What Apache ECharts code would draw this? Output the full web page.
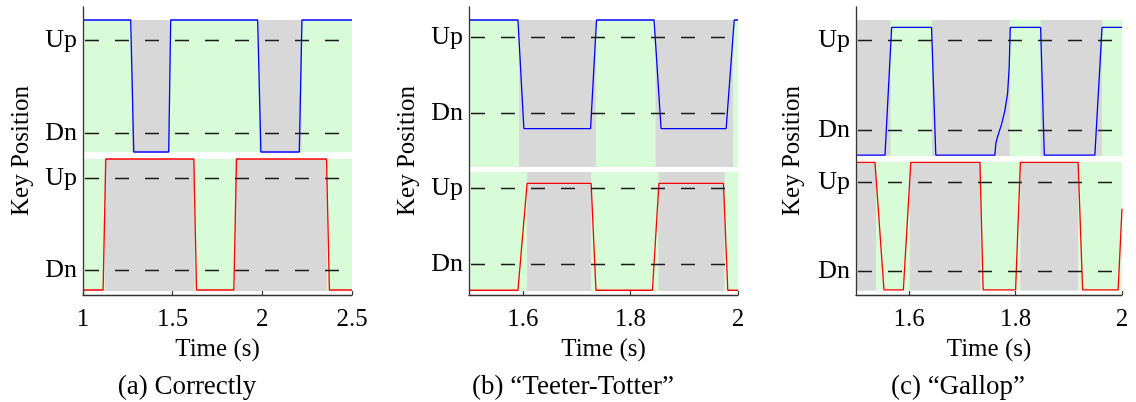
<!DOCTYPE html>
<html>
<head>
<meta charset="utf-8">
<script src="https://cdn.jsdelivr.net/npm/echarts@6/dist/echarts.min.js"></script>
<style>
  html, body { margin: 0; padding: 0; background: #fff; }
  #chart { width: 1136px; height: 402px; }
</style>
</head>
<body>
<div id="chart"></div>
<script>
// Key position traces for two keys, in units where Dn = 0 and Up = 1.
const yTickValues = [0, 1];
const yTickLabels = ['Dn', 'Up'];

const xTitle = 'Time (s)';
const yTitle = 'Key Position';
const captions = ['(a) Correctly', '(b) \u201cTeeter-Totter\u201d', '(c) \u201cGallop\u201d'];

// x ranges and tick values of each panel
const aRange = [1, 2.5];
const bRange = [1.5, 2];
const cRange = [1.5, 2];
const aTicks = [1, 1.5, 2, 2.5];
const bTicks = [1.6, 1.8, 2];
const cTicks = [1.6, 1.8, 2];

// (a) correctly: upper key (blue)
const aTopTime  = [1.0, 1.266, 1.283, 1.478, 1.489, 1.974, 1.992, 2.206, 2.221, 2.5];
const aTopValue = [1.215, 1.215, -0.204, -0.204, 1.215, 1.215, -0.204, -0.204, 1.215, 1.215];
const aTopGray  = [[1.272, 1.484], [1.981, 2.219]];
// (a) correctly: lower key (red)
const aBotTime  = [1.0, 1.112, 1.127, 1.618, 1.633, 1.841, 1.856, 2.358, 2.374, 2.5];
const aBotValue = [-0.217, -0.217, 1.207, 1.207, -0.217, -0.217, 1.207, 1.207, -0.217, -0.217];
const aBotGray  = [[1.121, 1.622], [1.849, 2.361]];

// (b) teeter-totter
const bTopTime  = [1.5, 1.591, 1.602, 1.726, 1.737, 1.844, 1.857, 1.978, 1.993, 2.0];
const bTopValue = [1.22, 1.22, -0.205, -0.205, 1.22, 1.22, -0.205, -0.205, 1.22, 1.22];
const bTopGray  = [[1.593, 1.736], [1.847, 1.991]];
const bBotTime  = [1.5, 1.591, 1.608, 1.727, 1.736, 1.841, 1.853, 1.973, 1.981, 2.0];
const bBotValue = [-0.35, -0.35, 1.07, 1.07, -0.35, -0.35, 1.07, 1.07, -0.35, -0.35];
const bBotGray  = [[1.608, 1.727], [1.852, 1.975]];

// (c) gallop
const cTopTime  = [1.5, 1.5545, 1.567, 1.642, 1.650, 1.761, 1.763, 1.766, 1.769, 1.774, 1.780, 1.785, 1.788, 1.790, 1.847, 1.854, 1.949, 1.9625, 2.0];
const cTopValue = [-0.28, -0.28, 1.14, 1.14, -0.28, -0.28, -0.145, -0.078, -0.022, 0.07, 0.22, 0.41, 0.70, 1.14, 1.14, -0.28, -0.28, 1.14, 1.14];
const cTopGray  = [[1.5, 1.565], [1.643, 1.789], [1.847, 1.9625]];
const cBotTime  = [1.5, 1.5357, 1.5526, 1.589, 1.603, 1.733, 1.739, 1.800, 1.809, 1.9175, 1.926, 1.9927, 2.0];
const cBotValue = [1.22, 1.22, -0.21, -0.21, 1.22, 1.22, -0.21, -0.21, 1.22, 1.22, -0.21, -0.21, 0.70];
const cBotGray  = [[1.5, 1.5376], [1.601, 1.734], [1.809, 1.9175]];

// ---- layout and styling ----
const FONT = 'Liberation Serif';
const GREEN = '#d8fcd8';
const GRAY = '#d8d8d8';
const BLUE = '#0000ff';
const RED = '#ff0000';
const AXIS = '#333333';

const panels = [
  {
    range: aRange, ticks: aTicks, left: 83, width: 269, caption: captions[0], captionX: 187, ylabelX: 21,
    top: { time: aTopTime, value: aTopValue, gray: aTopGray, y: 20, h: 132, min: -0.204, max: 1.215 },
    bot: { time: aBotTime, value: aBotValue, gray: aBotGray, y: 159, h: 132, min: -0.228, max: 1.207 }
  },
  {
    range: bRange, ticks: bTicks, left: 469, width: 269, caption: captions[1], captionX: 573, ylabelX: 407,
    top: { time: bTopTime, value: bTopValue, gray: bTopGray, y: 20, h: 147, min: -0.71, max: 1.22 },
    bot: { time: bBotTime, value: bBotValue, gray: bBotGray, y: 172, h: 119, min: -0.36, max: 1.22 }
  },
  {
    range: cRange, ticks: cTicks, left: 856, width: 266, caption: captions[2], captionX: 958, ylabelX: 792,
    top: { time: cTopTime, value: cTopValue, gray: cTopGray, y: 20, h: 136, min: -0.29, max: 1.223 },
    bot: { time: cBotTime, value: cBotValue, gray: cBotGray, y: 162, h: 128.5, min: -0.216, max: 1.224 }
  }
];

const FRAME_TOP = 7;
const FRAME_BOTTOM = 295;

const grid = [], xAxis = [], yAxis = [], series = [], graphic = [];

panels.forEach((p) => {
  // frame: left and bottom axis lines, time ticks and labels
  const fi = grid.length;
  grid.push({ left: p.left, top: FRAME_TOP, width: p.width, height: FRAME_BOTTOM - FRAME_TOP,
              containLabel: false, outerBoundsMode: 'none' });
  xAxis.push({
    gridIndex: fi, type: 'value', min: p.range[0], max: p.range[1], z: 10,
    axisLine: { show: true, lineStyle: { color: AXIS, width: 1.3 } },
    axisTick: { show: true, inside: true, length: 4, customValues: p.ticks, lineStyle: { color: AXIS, width: 1.2 } },
    axisLabel: { show: true, customValues: p.ticks, margin: 12, fontFamily: FONT, fontSize: 25, color: '#000',
                 formatter: (v) => String(v) },
    splitLine: { show: false },
    name: xTitle, nameLocation: 'middle', nameGap: 32,
    nameTextStyle: { fontFamily: FONT, fontSize: 25, color: '#000' }
  });
  yAxis.push({
    gridIndex: fi, type: 'value', min: 0, max: 1, z: 10,
    axisLine: { show: true, lineStyle: { color: AXIS, width: 1.3 } },
    axisTick: { show: false }, axisLabel: { show: false }, splitLine: { show: false }
  });
  series.push({ type: 'line', xAxisIndex: fi, yAxisIndex: fi, data: [], silent: true });

  // the two key traces
  [[p.top, BLUE], [p.bot, RED]].forEach(([s, color]) => {
    const gi = grid.length;
    grid.push({ left: p.left, top: s.y, width: p.width, height: s.h, show: true,
                backgroundColor: GREEN, borderWidth: 0, containLabel: false, outerBoundsMode: 'none' });
    xAxis.push({ gridIndex: gi, type: 'value', min: p.range[0], max: p.range[1], show: false });
    yAxis.push({
      gridIndex: gi, type: 'value', min: s.min, max: s.max,
      axisLine: { show: false }, axisTick: { show: false }, splitLine: { show: false },
      axisLabel: { show: true, customValues: yTickValues, margin: 6, fontFamily: FONT, fontSize: 26, color: '#000',
                   formatter: (v) => yTickLabels[yTickValues.indexOf(v)] }
    });
    series.push({
      type: 'line', xAxisIndex: gi, yAxisIndex: gi, clip: false, silent: true,
      showSymbol: false, symbol: 'none',
      data: s.time.map((t, i) => [t, s.value[i]]),
      lineStyle: { color: color, width: 1.3 },
      markArea: {
        silent: true,
        itemStyle: { color: GRAY },
        data: s.gray.map(([a, b]) => [{ xAxis: a }, { xAxis: b }])
      },
      markLine: {
        silent: true, symbol: ['none', 'none'], label: { show: false },
        lineStyle: { type: [14, 16], dashOffset: 28, color: '#1a1a1a', width: 1.4 },
        emphasis: { disabled: true },
        data: yTickValues.map((v) => ({ yAxis: v }))
      }
    });
  });

  graphic.push({
    type: 'text', x: p.ylabelX, y: (FRAME_TOP + FRAME_BOTTOM) / 2, rotation: Math.PI / 2,
    style: { text: yTitle, fontFamily: FONT, fontSize: 25, fill: '#000', textAlign: 'center', textVerticalAlign: 'middle' }
  });
  graphic.push({
    type: 'text', x: p.captionX, y: 387,
    style: { text: p.caption, fontFamily: FONT, fontSize: 27, fill: '#000', textAlign: 'center', textVerticalAlign: 'middle' }
  });
});

const chart = echarts.init(document.getElementById('chart'), null, { renderer: 'canvas' });
chart.setOption({
  animation: false,
  backgroundColor: '#ffffff',
  grid, xAxis, yAxis, series, graphic
});
</script>
</body>
</html>
